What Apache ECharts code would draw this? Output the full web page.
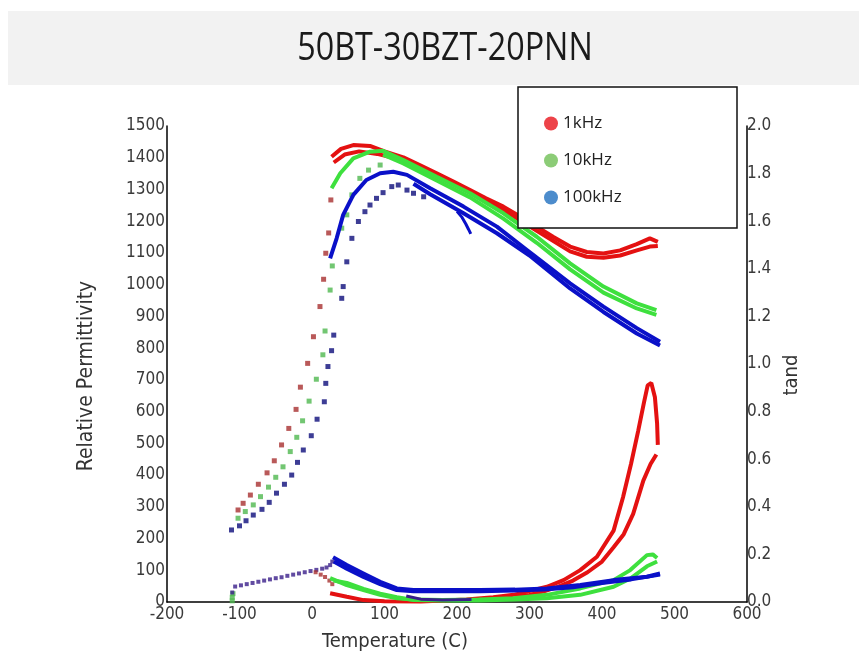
<!DOCTYPE html>
<html>
<head>
<meta charset="utf-8">
<script src="https://cdn.jsdelivr.net/npm/echarts@6/dist/echarts.min.js"></script>
<style>
html,body{margin:0;padding:0;background:#fff;}
#chart{width:859px;height:663px;}
</style>
</head>
<body>
<div id="chart"></div>
<script>
// ---------- Tick labels / axes ----------
const xTicks = [-200, -100, 0, 100, 200, 300, 400, 500, 600];
const epsTicks = [0, 1500];
const tanTicks = [0, 2.0];
const legendNames = ['1kHz', '10kHz', '100kHz'];

// ---------- Relative permittivity ----------
// 1 kHz: sparse low-temperature points
const eps1kDotsT = [-102, -95, -85, -74, -62, -52, -42, -32, -22, -16, -6, 2, 11, 16, 19, 23, 26];
const eps1kDotsV = [290, 311, 337, 371, 407, 445, 495, 547, 607, 677, 752, 836, 931, 1017, 1099, 1163, 1267];
// 1 kHz: two dense branches
const eps1kAT = [27, 40, 57, 80, 100, 126, 150, 172, 195, 218, 240, 264, 287, 310, 333, 356, 379, 402, 425, 448, 466, 477];
const eps1kAV = [1403, 1428, 1440, 1437, 1420, 1401, 1375, 1351, 1325, 1298, 1272, 1246, 1215, 1183, 1150, 1120, 1103, 1098, 1108, 1128, 1146, 1135];
const eps1kBT = [30, 45, 65, 90, 126, 172, 218, 264, 310, 356, 379, 402, 425, 448, 466, 477];
const eps1kBV = [1385, 1410, 1420, 1412, 1392, 1342, 1290, 1236, 1170, 1105, 1088, 1085, 1092, 1108, 1120, 1122];

// 10 kHz
const eps10kDotsT = [-102, -92, -81, -71, -60, -50, -40, -30, -21, -13, -4, 6, 15, 18, 25, 28, 41, 48, 55, 66, 78, 94];
const eps10kDotsV = [264, 285, 306, 332, 362, 393, 426, 474, 519, 571, 633, 702, 779, 854, 983, 1059, 1178, 1220, 1283, 1335, 1361, 1377];
const eps10kAT = [27, 39, 57, 80, 98, 126, 172, 218, 264, 310, 356, 402, 448, 475];
const eps10kAV = [1304, 1351, 1398, 1419, 1422, 1393, 1340, 1288, 1225, 1151, 1067, 994, 941, 920];
const eps10kBT = [98, 126, 172, 218, 264, 310, 356, 402, 448, 475];
const eps10kBV = [1410, 1382, 1328, 1275, 1208, 1132, 1048, 975, 925, 905];

// 100 kHz
const eps100kDotsT = [-111, -100, -91, -81, -69, -59, -49, -38, -28, -20, -12, -1, 7, 17, 19, 22, 27, 30, 41, 43, 48, 55, 64, 73, 80, 89, 98, 110, 119, 131, 140, 154];
const eps100kDotsV = [227, 240, 256, 274, 292, 314, 343, 371, 400, 440, 479, 524, 576, 631, 689, 742, 792, 841, 957, 994, 1072, 1146, 1199, 1230, 1251, 1272, 1290, 1309, 1314, 1298, 1288, 1277];
const eps100kAT = [25, 34, 43, 57, 75, 94, 112, 131, 163, 209, 255, 296, 310, 356, 402, 448, 480];
const eps100kAV = [1083, 1146, 1220, 1283, 1330, 1351, 1356, 1346, 1304, 1246, 1183, 1110, 1085, 1004, 931, 863, 820];
const eps100kBT = [140, 163, 209, 255, 300, 356, 402, 448, 480];
const eps100kBV = [1318, 1285, 1225, 1162, 1092, 988, 914, 846, 808];
const eps100kHookT = [200, 207, 212, 216, 219];
const eps100kHookV = [1231, 1212, 1192, 1174, 1160];

// ---------- tan delta ----------
const tanLowDotsT = [-110, -106, -98, -90, -82, -74, -66, -58, -50, -42, -34, -26, -18, -10, -2, 6, 14, 20, 25, 28];
const tanLowDotsV = [0.04, 0.065, 0.07, 0.075, 0.08, 0.085, 0.09, 0.095, 0.1, 0.104, 0.11, 0.115, 0.12, 0.125, 0.13, 0.135, 0.14, 0.145, 0.155, 0.17];
const tan1kDotsT = [5, 12, 18, 24, 28];
const tan1kDotsV = [0.125, 0.115, 0.105, 0.09, 0.075];
const tan10kDotsT = [-110, -110, -109];
const tan10kDotsV = [0.005, 0.02, 0.035];

const tan1kAT = [25, 48, 71, 100, 150, 213, 250, 278, 324, 347, 370, 393, 416, 429, 440, 450, 458, 463, 468, 473, 476, 477];
const tan1kAV = [0.037, 0.022, 0.008, 0.003, 0.002, 0.011, 0.02, 0.03, 0.064, 0.092, 0.134, 0.19, 0.30, 0.44, 0.58, 0.72, 0.84, 0.91, 0.92, 0.86, 0.75, 0.66];
const tan1kBT = [475, 467, 457, 443, 430, 416, 400, 380, 360, 340, 320, 300, 280];
const tan1kBV = [0.62, 0.58, 0.51, 0.37, 0.285, 0.23, 0.17, 0.125, 0.09, 0.065, 0.045, 0.03, 0.022];

const tan10kAT = [25, 48, 71, 94, 117, 140, 180, 230, 278, 324, 370, 416, 439, 462, 470, 476];
const tan10kAV = [0.10, 0.071, 0.05, 0.03, 0.016, 0.01, 0.008, 0.01, 0.016, 0.03, 0.057, 0.092, 0.134, 0.197, 0.2, 0.185];
const tan10kBT = [476, 462, 440, 416, 370, 324, 280, 230, 180, 140, 117, 94, 71, 48, 30];
const tan10kBV = [0.17, 0.15, 0.10, 0.064, 0.03, 0.016, 0.01, 0.006, 0.006, 0.008, 0.02, 0.035, 0.055, 0.08, 0.09];

const tan100kAT = [29, 48, 71, 94, 117, 140, 180, 232, 280, 324, 370, 416, 462, 480];
const tan100kAV = [0.188, 0.155, 0.12, 0.085, 0.057, 0.05, 0.05, 0.05, 0.052, 0.057, 0.071, 0.092, 0.106, 0.12];
const tan100kBT = [480, 440, 400, 360, 320, 280, 232, 180, 140, 117, 94, 71, 48, 30];
const tan100kBV = [0.115, 0.095, 0.08, 0.062, 0.052, 0.048, 0.045, 0.045, 0.045, 0.05, 0.075, 0.105, 0.14, 0.17];
const tan100kLowT = [130, 150, 180, 220];
const tan100kLowV = [0.025, 0.012, 0.008, 0.01];

// ---------- colours ----------
const C = {
  red: '#e41111', redDot: '#a83030',
  green: '#3ee03e', greenDot: '#4fb84f',
  blue: '#0a10c8', blueDot: '#0c0c7a', purple: '#3a1e8a'
};
const legendColors = ['#e8141c', '#6fbf55', '#1f6fbf'];

const zip = (a, b) => a.map((x, i) => [x, b[i]]);
const tickFont = "'Liberation Sans Narrow', 'DejaVu Sans Condensed', 'Liberation Sans', sans-serif";

function line(name, t, v, color, yIdx, w) {
  return { name, type: 'line', data: zip(t, v), yAxisIndex: yIdx, showSymbol: false,
    lineStyle: { color, width: w || 4 }, itemStyle: { color }, silent: true, animation: false };
}
function dots(name, t, v, color, yIdx, size) {
  return { name, type: 'scatter', data: zip(t, v), yAxisIndex: yIdx, symbol: 'rect',
    symbolSize: size || 5, itemStyle: { color }, silent: true, animation: false };
}

const chart = echarts.init(document.getElementById('chart'), null, { renderer: 'canvas' });
chart.setOption({
  animation: false,
  backgroundColor: '#ffffff',
  grid: { left: 167, right: 112, top: 126, bottom: 61 },
  graphic: [
    { type: 'rect', z: 0, shape: { x: 8, y: 11, width: 851, height: 74 }, style: { fill: '#f2f2f2' } },
    { type: 'text', z: 1, x: 445, y: 49, scaleX: 0.85,
      style: { text: '50BT-30BZT-20PNN', fontSize: 38, fontFamily: "'Open Sans', 'Noto Sans', sans-serif",
        fill: '#1a1a1a', align: 'center', verticalAlign: 'middle' } },
    { type: 'rect', z: 20, shape: { x: 518, y: 87, width: 219, height: 141 },
      style: { fill: '#ffffff', stroke: '#111', lineWidth: 1.5 } }
  ],
  legend: {
    z: 21, orient: 'vertical', left: 539, top: 110, itemGap: 20, icon: 'circle',
    itemWidth: 14, itemHeight: 14, selectedMode: false,
    textStyle: { fontSize: 17, fontFamily: "'Open Sans', 'Noto Sans', sans-serif", color: '#222' },
    data: legendNames.map((n, i) => ({ name: n, itemStyle: { color: legendColors[i] } }))
  },
  xAxis: {
    type: 'value', min: xTicks[0], max: xTicks[xTicks.length - 1], interval: 100,
    name: 'Temperature (C)', nameLocation: 'middle', nameGap: 30,
    nameTextStyle: { fontSize: 20, fontFamily: tickFont, color: '#333', padding: [0, 124, 0, 0] },
    axisLine: { show: true, onZero: false, lineStyle: { color: '#000', width: 1.5 } },
    axisTick: { show: false }, splitLine: { show: false },
    axisLabel: { margin: 4, fontSize: 17, fontFamily: tickFont, color: '#3a3a3a', formatter: v => String(v) }
  },
  yAxis: [
    {
      type: 'value', min: epsTicks[0], max: epsTicks[1], interval: 100, position: 'left',
      name: 'Relative Permittivity', nameLocation: 'middle', nameGap: 70, nameRotate: 90,
      nameTextStyle: { fontSize: 21, fontFamily: tickFont, color: '#333', padding: [0, 24, 0, 0] },
      axisLine: { show: true, onZero: false, lineStyle: { color: '#000', width: 1.5 } },
      axisTick: { show: false }, splitLine: { show: false },
      axisLabel: { margin: 2, fontSize: 17, fontFamily: tickFont, color: '#3a3a3a', formatter: v => String(v) }
    },
    {
      type: 'value', min: tanTicks[0], max: tanTicks[1], interval: 0.2, position: 'right',
      name: 'tand', nameLocation: 'middle', nameGap: 34, nameRotate: 90,
      nameTextStyle: { fontSize: 20, fontFamily: tickFont, color: '#333', padding: [0, 22, 0, 0] },
      axisLine: { show: true, onZero: false, lineStyle: { color: '#000', width: 1.5 } },
      axisTick: { show: false }, splitLine: { show: false },
      axisLabel: { margin: 0, fontSize: 17, fontFamily: tickFont, color: '#3a3a3a',
        formatter: v => v.toFixed(1) }
    }
  ],
  series: [
    // 1 kHz
    dots('1kHz', eps1kDotsT, eps1kDotsV, C.redDot, 0),
    line('1kHz', eps1kBT, eps1kBV, C.red, 0),
    line('1kHz', eps1kAT, eps1kAV, C.red, 0),
    line('1kHz', tan1kAT, tan1kAV, C.red, 1),
    line('1kHz', tan1kBT, tan1kBV, C.red, 1),
    // 10 kHz
    dots('10kHz', eps10kDotsT, eps10kDotsV, C.greenDot, 0),
    line('10kHz', eps10kBT, eps10kBV, C.green, 0),
    line('10kHz', eps10kAT, eps10kAV, C.green, 0),
    line('10kHz', tan10kAT, tan10kAV, C.green, 1),
    line('10kHz', tan10kBT, tan10kBV, C.green, 1),
    dots('10kHz', tan10kDotsT, tan10kDotsV, C.greenDot, 1),
    // 100 kHz
    dots('100kHz', eps100kDotsT, eps100kDotsV, C.blueDot, 0),
    line('100kHz', eps100kHookT, eps100kHookV, C.blue, 0, 3),
    line('100kHz', eps100kBT, eps100kBV, C.blue, 0),
    line('100kHz', eps100kAT, eps100kAV, C.blue, 0),
    line('100kHz', tan100kLowT, tan100kLowV, C.purple, 1, 3),
    line('100kHz', tan100kBT, tan100kBV, C.blue, 1),
    line('100kHz', tan100kAT, tan100kAV, C.blue, 1),
    dots('100kHz', tanLowDotsT, tanLowDotsV, C.purple, 1, 4),
    dots('1kHz', tan1kDotsT, tan1kDotsV, C.redDot, 1, 4)
  ]
});
</script>
</body>
</html>
